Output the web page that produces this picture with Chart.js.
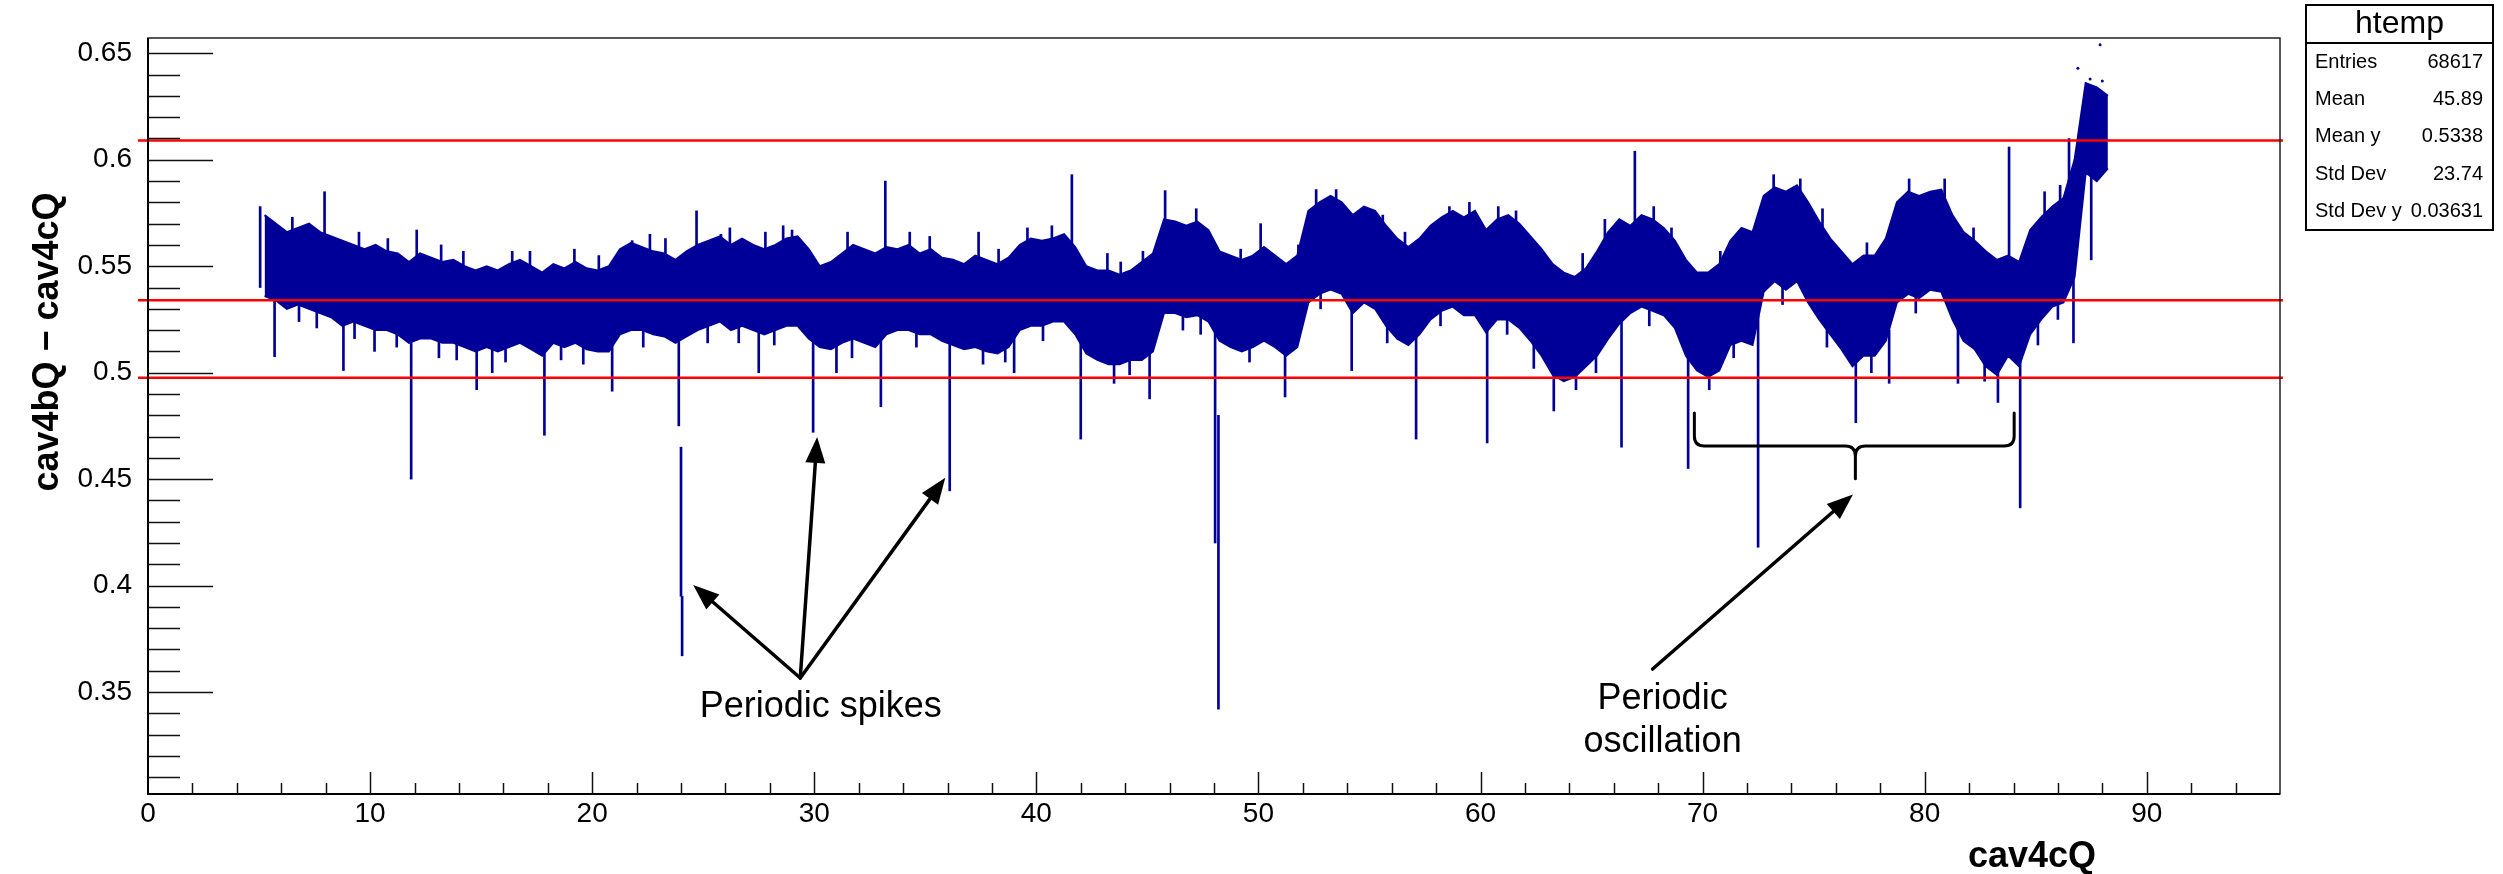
<!DOCTYPE html>
<html>
<head>
<meta charset="utf-8">
<script src="https://cdn.jsdelivr.net/npm/chart.js@4.4.1/dist/chart.umd.min.js"></script>
<style>
  html, body { margin: 0; padding: 0; background: #fff; }
  canvas { display: block; }
</style>
</head>
<body>
<canvas id="chart" width="2503" height="874"></canvas>
<script>
// ---- data ----
// dense band: bins of 0.5 starting at x = 5.0
const binStart = 5.0;
const binWidth = 0.5;
const bandHigh = [
  0.574, 0.570, 0.566, 0.568, 0.570, 0.566, 0.564, 0.562, 0.560, 0.558,
  0.560, 0.557, 0.556, 0.552, 0.556, 0.554, 0.552, 0.553, 0.550, 0.548,
  0.550, 0.548, 0.551, 0.553, 0.550, 0.547, 0.551, 0.549, 0.552, 0.549,
  0.548, 0.550, 0.558, 0.561, 0.559, 0.557, 0.556, 0.553, 0.557, 0.560,
  0.562, 0.564, 0.560, 0.563, 0.560, 0.558, 0.560, 0.563, 0.564, 0.558,
  0.550, 0.552, 0.556, 0.560, 0.558, 0.556, 0.559, 0.558, 0.560, 0.556,
  0.558, 0.554, 0.553, 0.551, 0.555, 0.553, 0.551, 0.554, 0.560, 0.563,
  0.562, 0.563, 0.565, 0.559, 0.550, 0.548, 0.548, 0.546, 0.548, 0.552,
  0.556, 0.572, 0.571, 0.569, 0.571, 0.567, 0.557, 0.555, 0.553, 0.555,
  0.559, 0.555, 0.551, 0.555, 0.576, 0.580, 0.583, 0.580, 0.574, 0.578,
  0.576, 0.569, 0.563, 0.559, 0.563, 0.569, 0.573, 0.576, 0.573, 0.576,
  0.567, 0.572, 0.574, 0.570, 0.564, 0.558, 0.551, 0.547, 0.545, 0.549,
  0.557, 0.566, 0.572, 0.569, 0.574, 0.572, 0.568, 0.562, 0.553, 0.547,
  0.547, 0.551, 0.562, 0.568, 0.566, 0.583, 0.587, 0.585, 0.588, 0.580,
  0.571, 0.563, 0.557, 0.551, 0.555, 0.555, 0.563, 0.580, 0.585, 0.583,
  0.585, 0.586, 0.574, 0.566, 0.562, 0.557, 0.553, 0.555, 0.552, 0.567,
  0.573, 0.578, 0.582, 0.600, 0.636, 0.634, 0.630
];
const bandLow = [
  0.536, 0.534, 0.530, 0.532, 0.530, 0.528, 0.526, 0.522, 0.524, 0.522,
  0.520, 0.520, 0.518, 0.514, 0.516, 0.516, 0.514, 0.514, 0.512, 0.510,
  0.512, 0.510, 0.512, 0.514, 0.511, 0.508, 0.514, 0.512, 0.514, 0.511,
  0.510, 0.510, 0.518, 0.520, 0.520, 0.518, 0.517, 0.514, 0.517, 0.520,
  0.522, 0.524, 0.520, 0.522, 0.520, 0.518, 0.520, 0.522, 0.522, 0.516,
  0.512, 0.511, 0.514, 0.516, 0.514, 0.512, 0.518, 0.520, 0.520, 0.518,
  0.518, 0.515, 0.513, 0.511, 0.512, 0.510, 0.509, 0.512, 0.520, 0.522,
  0.522, 0.524, 0.524, 0.518, 0.509, 0.506, 0.504, 0.504, 0.506, 0.506,
  0.510, 0.528, 0.528, 0.526, 0.527, 0.524, 0.515, 0.512, 0.510, 0.512,
  0.515, 0.512, 0.508, 0.512, 0.533, 0.537, 0.539, 0.537, 0.528, 0.533,
  0.530, 0.522, 0.516, 0.513, 0.518, 0.525, 0.529, 0.531, 0.527, 0.527,
  0.519, 0.525, 0.525, 0.521, 0.515, 0.508, 0.499, 0.496, 0.498, 0.503,
  0.508, 0.516, 0.523, 0.528, 0.531, 0.529, 0.527, 0.521, 0.508, 0.501,
  0.498, 0.501, 0.513, 0.515, 0.513, 0.538, 0.543, 0.539, 0.543, 0.533,
  0.525, 0.518, 0.511, 0.503, 0.508, 0.508, 0.515, 0.533, 0.537, 0.535,
  0.539, 0.538, 0.525, 0.515, 0.511, 0.503, 0.499, 0.508, 0.503, 0.518,
  0.525, 0.531, 0.533, 0.545, 0.594, 0.590, 0.596
];

// single narrow excursions (position, lowest, highest)
const spikeX = [
  5.05, 5.7, 7.95, 8.8, 10.2, 11.85, 12.1, 14.8, 15.5, 16.4,
  17.85, 20.9, 21.8, 23.9, 24.0, 24.05, 24.7, 25.8, 27.5, 29.0,
  29.95, 31.0, 33.0, 33.2, 36.1, 37.4, 39.0, 39.6, 41.6, 42.0,
  43.2, 43.5, 44.8, 45.1, 45.8, 48.05, 48.2, 50.1, 51.2, 53.5,
  54.2, 57.1, 58.6, 59.5, 60.3, 63.3, 66.35, 66.95, 69.35, 72.5,
  74.4, 76.9, 78.4, 80.9, 81.5, 83.3, 83.8, 84.3, 86.5, 86.7,
  87.5
];
const spikeLow = [
  0.540, 0.5075, 0.555, 0.501, 0.510, 0.450, 0.545, 0.492, 0.500, 0.540,
  0.4706, 0.4913, 0.550, 0.475, 0.395, 0.367, 0.550, 0.550, 0.500, 0.550,
  0.472, 0.500, 0.484, 0.550, 0.4445, 0.540, 0.500, 0.550, 0.550, 0.4688,
  0.540, 0.495, 0.540, 0.4877, 0.560, 0.420, 0.342, 0.550, 0.4886, 0.570,
  0.501, 0.4688, 0.560, 0.560, 0.467, 0.482, 0.465, 0.560, 0.455, 0.418,
  0.575, 0.4765, 0.495, 0.575, 0.495, 0.486, 0.545, 0.4365, 0.580, 0.514,
  0.553
];
const spikeHigh = [
  0.578, 0.540, 0.585, 0.530, 0.530, 0.530, 0.567, 0.530, 0.520, 0.557,
  0.530, 0.530, 0.562, 0.520, 0.465, 0.395, 0.576, 0.565, 0.520, 0.567,
  0.530, 0.520, 0.530, 0.590, 0.530, 0.566, 0.520, 0.568, 0.593, 0.530,
  0.556, 0.520, 0.557, 0.530, 0.5855, 0.530, 0.480, 0.570, 0.530, 0.586,
  0.540, 0.530, 0.578, 0.580, 0.530, 0.520, 0.530, 0.604, 0.520, 0.530,
  0.591, 0.520, 0.520, 0.591, 0.540, 0.520, 0.606, 0.520, 0.610, 0.550,
  0.600
];

// short hairs along the band edges (position, lowest, highest)
const hairX = [
  6.5, 9.5, 10.8, 13.2, 14.2, 17.2, 19.2, 20.3, 22.6, 23.3,
  26.2, 27.8, 28.6, 31.5, 34.3, 35.2, 38.3, 40.7, 43.8, 47.2,
  49.2, 51.8, 52.6, 55.6, 56.6, 60.8, 61.6, 64.6, 65.6, 67.8,
  68.6, 70.8, 73.2, 75.4, 77.4, 79.3, 82.2, 85.4, 86.1,
  6.8, 7.6, 9.3, 11.2, 13.1, 13.9, 16.1, 18.6, 19.6, 22.3,
  25.2, 26.6, 28.2, 31.7, 34.6, 37.6, 38.6, 40.3, 44.2, 46.6,
  47.4, 49.6, 52.8, 55.8, 58.2, 61.2, 62.4, 64.3, 65.2, 67.6,
  70.3, 71.4, 73.6, 75.6, 77.6, 79.6, 82.7, 85.1, 86.0
];
const hairLow = [
  0.553, 0.546, 0.543, 0.540, 0.537, 0.537, 0.538, 0.535, 0.545, 0.543,
  0.548, 0.546, 0.549, 0.546, 0.546, 0.544, 0.538, 0.549, 0.532, 0.557,
  0.538, 0.540, 0.566, 0.554, 0.546, 0.558, 0.556, 0.536, 0.552, 0.558,
  0.548, 0.537, 0.573, 0.557, 0.541, 0.571, 0.548, 0.565, 0.568,
  0.524, 0.521, 0.516, 0.512, 0.507, 0.506, 0.505, 0.506, 0.504, 0.512,
  0.514, 0.514, 0.513, 0.507, 0.512, 0.504, 0.505, 0.515, 0.499, 0.520,
  0.518, 0.505, 0.530, 0.514, 0.522, 0.518, 0.502, 0.492, 0.500, 0.522,
  0.492, 0.507, 0.532, 0.512, 0.500, 0.528, 0.496, 0.513, 0.525
];
const hairHigh = [
  0.573, 0.566, 0.563, 0.560, 0.557, 0.557, 0.558, 0.555, 0.565, 0.563,
  0.568, 0.566, 0.569, 0.566, 0.566, 0.564, 0.558, 0.569, 0.552, 0.577,
  0.558, 0.560, 0.586, 0.574, 0.566, 0.578, 0.576, 0.556, 0.572, 0.578,
  0.568, 0.557, 0.593, 0.577, 0.561, 0.591, 0.568, 0.585, 0.588,
  0.544, 0.541, 0.536, 0.532, 0.527, 0.526, 0.525, 0.526, 0.524, 0.532,
  0.534, 0.534, 0.533, 0.527, 0.532, 0.524, 0.525, 0.535, 0.519, 0.540,
  0.538, 0.525, 0.550, 0.534, 0.542, 0.538, 0.522, 0.512, 0.520, 0.542,
  0.512, 0.527, 0.552, 0.532, 0.520, 0.548, 0.516, 0.533, 0.545
];

// isolated points above the band at the right end
const dotX = [86.9, 87.45, 87.9, 88.0];
const dotY = [0.643, 0.638, 0.654, 0.637];

// horizontal reference lines
const refLines = [0.609, 0.534, 0.4976];

// axes
const xTicks = [0, 10, 20, 30, 40, 50, 60, 70, 80, 90];
const xMinorStep = 2;
const yTicks = [0.35, 0.4, 0.45, 0.5, 0.55, 0.6, 0.65];
const yMinorStep = 0.01;
const xRange = [0, 96];
const yRange = [0.3021, 0.6572];

// statistics box
const statsTitle = 'htemp';
const statsNames = ['Entries', 'Mean', 'Mean y', 'Std Dev', 'Std Dev y'];
const statsValues = ['68617', '45.89', '0.5338', '23.74', '0.03631'];

const FONT = '"Liberation Sans", Arial, Helvetica, sans-serif';
const BLUE = '#000099';

/**
 * Build the chart datasets from the arrays above
 */
function buildDatasets() {
  const binX = i => binStart + binWidth * (i + 0.5);
  const highPts = bandHigh.map((h, i) => ({ x: binX(i), y: h }));
  const lowPts = bandLow.map((l, i) => ({ x: binX(i), y: l }));
  const spikes = spikeX.map((x, i) => ({ x: x, y: [spikeLow[i], spikeHigh[i]] }));
  const hairs = hairX.map((x, i) => ({ x: x, y: [hairLow[i], hairHigh[i]] }));
  const dots = dotX.map((x, i) => ({ x: x, y: dotY[i] }));

  return [{
    type: 'line',
    data: highPts,
    borderColor: BLUE,
    borderWidth: 2,
    backgroundColor: BLUE,
    pointRadius: 0,
    tension: 0,
    fill: '+1'
  }, {
    type: 'line',
    data: lowPts,
    borderColor: BLUE,
    borderWidth: 2,
    pointRadius: 0,
    tension: 0,
    fill: false
  }, {
    type: 'bar',
    data: spikes,
    backgroundColor: BLUE,
    borderWidth: 0,
    barThickness: 2,
    grouped: false
  }, {
    type: 'bar',
    data: hairs,
    backgroundColor: BLUE,
    borderWidth: 0,
    barThickness: 2,
    grouped: false
  }, {
    type: 'scatter',
    data: dots,
    pointRadius: 1.5,
    pointBackgroundColor: BLUE,
    pointBorderWidth: 0
  }];
}

function drawArrow(ctx, x1, y1, x2, y2) {
  const ang = Math.atan2(y2 - y1, x2 - x1);
  const head = 26, half = 10;
  const bx = x2 - head * Math.cos(ang);
  const by = y2 - head * Math.sin(ang);
  ctx.beginPath();
  ctx.moveTo(x1, y1);
  ctx.lineTo(bx, by);
  ctx.stroke();
  ctx.beginPath();
  ctx.moveTo(x2, y2);
  ctx.lineTo(bx + half * Math.sin(ang), by - half * Math.cos(ang));
  ctx.lineTo(bx - half * Math.sin(ang), by + half * Math.cos(ang));
  ctx.closePath();
  ctx.fill();
}

/**
 * Reference lines drawn over the data
 */
const refLinePlugin = {
  id: 'refLines',
  afterDatasetsDraw(chart) {
    const { ctx, chartArea, scales } = chart;
    ctx.save();
    ctx.strokeStyle = '#ff0000';
    ctx.lineWidth = 2.5;
    refLines.forEach(v => {
      const y = scales.y.getPixelForValue(v);
      ctx.beginPath();
      ctx.moveTo(chartArea.left - 10, y);
      ctx.lineTo(chartArea.right + 3, y);
      ctx.stroke();
    });
    ctx.restore();
  }
};

/**
 * Frame, inward ticks, titles, stats box and annotations (ROOT look)
 */
const decorPlugin = {
  id: 'decor',
  afterDraw(chart) {
    const { ctx, chartArea: a, scales } = chart;
    const xs = scales.x, ys = scales.y;
    ctx.save();

    // frame
    ctx.strokeStyle = '#222';
    ctx.lineWidth = 1.5;
    ctx.strokeRect(a.left, a.top, a.right - a.left, a.bottom - a.top);
    ctx.strokeStyle = '#000';
    ctx.lineWidth = 2;
    ctx.beginPath();
    ctx.moveTo(a.left, a.top);
    ctx.lineTo(a.left, a.bottom);
    ctx.lineTo(a.right, a.bottom);
    ctx.stroke();

    // y ticks
    ctx.lineWidth = 1.5;
    ctx.strokeStyle = '#111';
    for (let v = 0.31; v <= yRange[1]; v += yMinorStep) {
      const vv = Math.round(v * 100) / 100;
      const major = yTicks.some(t => Math.abs(t - vv) < 1e-6);
      const y = Math.round(ys.getPixelForValue(vv)) + 0.5;
      ctx.beginPath();
      ctx.moveTo(a.left, y);
      ctx.lineTo(a.left + (major ? 65 : 32), y);
      ctx.stroke();
    }
    // x ticks
    for (let v = xRange[0] + xMinorStep; v < xRange[1]; v += xMinorStep) {
      const major = xTicks.includes(v);
      const x = Math.round(xs.getPixelForValue(v)) + 0.5;
      ctx.beginPath();
      ctx.moveTo(x, a.bottom);
      ctx.lineTo(x, a.bottom - (major ? 22 : 11));
      ctx.stroke();
    }

    // axis titles
    ctx.fillStyle = '#000';
    ctx.font = 'bold 36px ' + FONT;
    ctx.textAlign = 'center';
    ctx.textBaseline = 'middle';
    ctx.fillText('cav4cQ', 2032, 857);
    ctx.save();
    ctx.translate(48, 342);
    ctx.rotate(-Math.PI / 2);
    ctx.fillText('cav4bQ \u2212 cav4cQ', 0, 0);
    ctx.restore();

    // stats box
    const bx = 2306, by = 5, bw = 187, bh = 225;
    ctx.fillStyle = '#fff';
    ctx.fillRect(bx, by, bw, bh);
    ctx.strokeStyle = '#000';
    ctx.lineWidth = 2;
    ctx.strokeRect(bx, by, bw, bh);
    ctx.beginPath();
    ctx.moveTo(bx, 43);
    ctx.lineTo(bx + bw, 43);
    ctx.stroke();
    ctx.fillStyle = '#000';
    ctx.font = '32px ' + FONT;
    ctx.textAlign = 'center';
    ctx.fillText(statsTitle, bx + bw / 2, 24);
    ctx.font = '20px ' + FONT;
    const rowY = [62, 99, 136, 174, 211];
    statsNames.forEach((name, i) => {
      ctx.textAlign = 'left';
      ctx.fillText(name, 2315, rowY[i]);
      ctx.textAlign = 'right';
      ctx.fillText(statsValues[i], 2483, rowY[i]);
    });

    // annotations, placed in data coordinates
    const px = v => xs.getPixelForValue(v);
    const py = v => ys.getPixelForValue(v);
    ctx.strokeStyle = '#000';
    ctx.fillStyle = '#000';
    ctx.lineWidth = 3.5;
    ctx.lineCap = 'round';
    drawArrow(ctx, px(29.37), py(0.3566), px(24.55), py(0.4003));
    drawArrow(ctx, px(29.37), py(0.3566), px(30.13), py(0.4698));
    drawArrow(ctx, px(29.37), py(0.3566), px(35.9), py(0.4506));
    drawArrow(ctx, px(67.75), py(0.3608), px(76.77), py(0.4428));

    // brace
    const l = px(69.63), r = px(84.03), c = px(76.88);
    const top = py(0.4811), mid = py(0.4656), tip = py(0.4502);
    const rr = 10;
    ctx.lineWidth = 3;
    ctx.beginPath();
    ctx.moveTo(l, top);
    ctx.lineTo(l, mid - rr);
    ctx.quadraticCurveTo(l, mid, l + rr, mid);
    ctx.lineTo(c - rr, mid);
    ctx.quadraticCurveTo(c, mid, c, mid + rr);
    ctx.lineTo(c, tip);
    ctx.moveTo(c, mid + rr);
    ctx.quadraticCurveTo(c, mid, c + rr, mid);
    ctx.lineTo(r - rr, mid);
    ctx.quadraticCurveTo(r, mid, r, mid - rr);
    ctx.lineTo(r, top);
    ctx.stroke();

    ctx.font = '36px ' + FONT;
    ctx.textAlign = 'center';
    ctx.textBaseline = 'middle';
    ctx.fillText('Periodic spikes', px(30.29), py(0.343));
    ctx.fillText('Periodic', px(68.2), py(0.3467));
    ctx.fillText('oscillation', px(68.2), py(0.3265));

    ctx.restore();
  }
};

const chart = new Chart(document.getElementById('chart'), {
  data: { datasets: buildDatasets() },
  options: {
    responsive: false,
    animation: false,
    devicePixelRatio: 1,
    layout: { padding: { left: 0, top: 38, right: 223, bottom: 0 } },
    plugins: {
      legend: { display: false },
      tooltip: { enabled: false }
    },
    scales: {
      x: {
        type: 'linear',
        min: xRange[0],
        max: xRange[1],
        offset: false,
        grid: { display: false, drawTicks: false, offset: false },
        border: { display: false },
        afterBuildTicks: scale => { scale.ticks = xTicks.map(v => ({ value: v })); },
        afterFit: scale => { scale.height = 80; },
        ticks: {
          color: '#000',
          padding: 3,
          maxRotation: 0,
          autoSkip: false,
          font: { family: FONT, size: 28 },
          callback: v => String(v)
        }
      },
      y: {
        type: 'linear',
        min: yRange[0],
        max: yRange[1],
        grid: { display: false, drawTicks: false },
        border: { display: false },
        afterBuildTicks: scale => { scale.ticks = yTicks.map(v => ({ value: v })); },
        afterFit: scale => { scale.width = 148; },
        ticks: {
          color: '#000',
          padding: 16,
          autoSkip: false,
          font: { family: FONT, size: 28 },
          callback: v => String(Math.round(v * 100) / 100)
        }
      }
    }
  },
  plugins: [refLinePlugin, decorPlugin]
});
</script>
</body>
</html>
